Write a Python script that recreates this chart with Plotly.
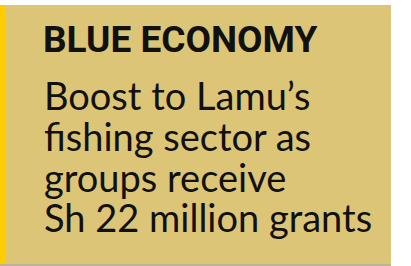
import plotly.graph_objects as go

W, H = 411, 266

kicker = "BLUE ECONOMY"
headline_lines = ["Boost to Lamu’s", "fishing sector as", "groups receive", "Sh 22 million grants"]
baselines = [111, 152, 193, 233]

BOX = "#DCC577"
STRIP = "#FFCC00"

fig = go.Figure()
fig.update_layout(
    width=W, height=H,
    margin=dict(l=0, r=0, t=0, b=0),
    paper_bgcolor="white", plot_bgcolor="white",
    xaxis=dict(range=[0, W], visible=False, fixedrange=True),
    yaxis=dict(range=[H, 0], visible=False, fixedrange=True),
    showlegend=False,
)

shapes = [
    dict(type="rect", x0=5, x1=391, y0=5, y1=264, fillcolor=BOX, line=dict(width=0), layer="below"),
    dict(type="rect", x0=0, x1=5, y0=5, y1=264, fillcolor=STRIP, line=dict(width=0), layer="below"),
    dict(type="rect", x0=0, x1=391, y0=264, y1=266, fillcolor="#b9b59c", line=dict(width=0), layer="below"),
]
fig.update_layout(shapes=shapes)

ann = []
ann.append(dict(x=41, y=39, xref="x", yref="y", text="<b>" + kicker + "</b>", showarrow=False,
                xanchor="left", yanchor="middle",
                font=dict(family="Roboto", size=37, color="#111111")))
for line, b in zip(headline_lines, baselines):
    ann.append(dict(x=42, y=b + 9, xref="x", yref="y", text=line, showarrow=False,
                    xanchor="left", yanchor="bottom",
                    font=dict(family="Lato", size=38, color="#111111")))
fig.update_layout(annotations=ann)

fig.write_html("out.html", config={"displayModeBar": False, "staticPlot": True},
               post_script="document.body.style.margin='0';")
